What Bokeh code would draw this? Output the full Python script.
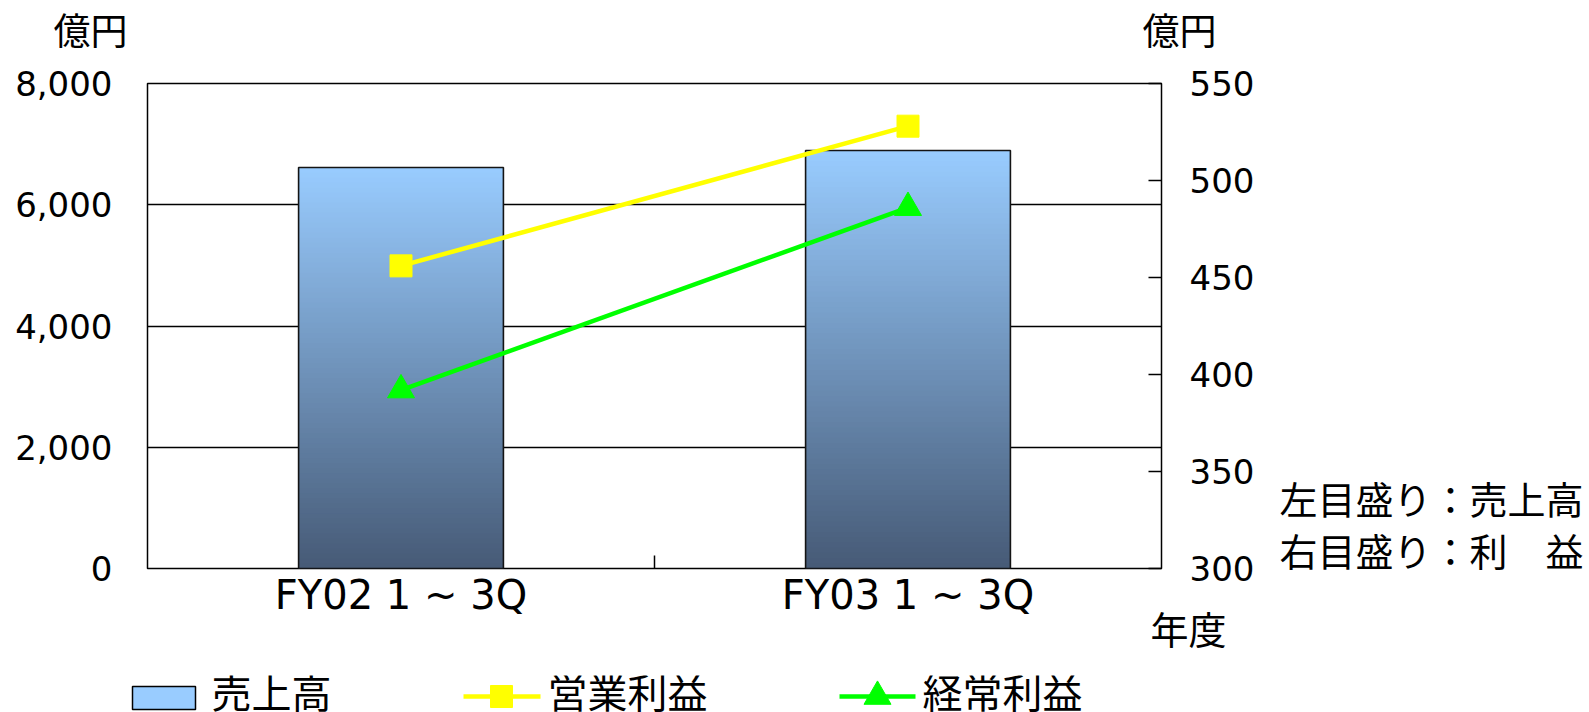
from bokeh.plotting import figure
from bokeh.models import (Range1d, LinearAxis, FixedTicker, NumeralTickFormatter,
                          Label, ColumnDataSource)
from bokeh.core.properties import value
from bokeh.embed import file_html
from bokeh.resources import INLINE

# ---- data (億円) ----
categories = ["FY02 1 ~ 3Q", "FY03 1 ~ 3Q"]
sales = [6615, 6895]             # 売上高 (left scale)
operating_profit = [456, 528]    # 営業利益 (right scale)
ordinary_profit = [392, 486]     # 経常利益 (right scale)
left_ticks = [0, 2000, 4000, 6000, 8000]
right_ticks = [300, 350, 400, 450, 500, 550]

JP = "Noto Sans CJK JP"
NUM = "DejaVu Sans"
W = 1589
TOP_H = 60
BORDER_TOP, FRAME_H, BORDER_BOTTOM = 23, 485, 106
LEG_H = 712 - TOP_H - BORDER_TOP - FRAME_H - BORDER_BOTTOM
BAR_HALF = 0.202
xs = [i + 0.5 for i in range(len(categories))]


def strip(height, y_top):
    """A plain drawing strip whose data units are page pixels."""
    f = figure(width=W, height=height, output_backend="svg", toolbar_location=None,
               x_range=Range1d(0, W), y_range=Range1d(y_top + height, y_top),
               min_border=0, outline_line_color=None)
    f.axis.visible = False
    f.grid.visible = False
    f.border_fill_color = "white"
    return f


# ---- unit captions above the chart ----
top = strip(TOP_H, 0)
top.text(x=[53, 1142], y=[28, 28], text=["億円", "億円"], text_font=value(JP),
         text_font_size="37px", text_color="black", text_baseline="middle",
         text_align="left")

# ---- main chart ----
p = figure(frame_width=1014, frame_height=FRAME_H, output_backend="svg",
           toolbar_location=None,
           x_range=Range1d(0, len(categories)), y_range=Range1d(0, 8000),
           min_border_left=147, min_border_right=428, min_border_top=BORDER_TOP,
           min_border_bottom=BORDER_BOTTOM)
p.extra_y_ranges = {"profit": Range1d(300, 550)}
p.outline_line_color = "black"
p.outline_line_width = 1.5
p.background_fill_color = "white"
p.border_fill_color = "white"

p.xgrid.visible = False
p.ygrid.ticker = FixedTicker(ticks=left_ticks)
p.ygrid.grid_line_color = "black"
p.ygrid.grid_line_width = 1.3

ya = p.yaxis[0]
ya.ticker = FixedTicker(ticks=left_ticks)
ya.formatter = NumeralTickFormatter(format="0,0")
ya.axis_line_color = None
ya.major_tick_in = 0
ya.major_tick_out = 0
ya.minor_tick_in = 0
ya.minor_tick_out = 0
ya.major_label_standoff = 35
ya.major_label_text_font = NUM
ya.major_label_text_font_size = "34px"
ya.major_label_text_color = "black"

ra = LinearAxis(y_range_name="profit", ticker=FixedTicker(ticks=right_ticks))
ra.axis_line_color = None
ra.major_tick_in = 13
ra.major_tick_out = 0
ra.minor_tick_in = 0
ra.minor_tick_out = 0
ra.major_tick_line_color = "black"
ra.major_tick_line_width = 1.5
ra.major_label_standoff = 28
ra.major_label_text_font = NUM
ra.major_label_text_font_size = "34px"
ra.major_label_text_color = "black"
p.add_layout(ra, "right")

xa = p.xaxis[0]
xa.ticker = FixedTicker(ticks=xs, minor_ticks=list(range(1, len(categories))))
xa.major_label_overrides = dict(zip(xs, categories))
xa.axis_line_color = None
xa.major_tick_in = 0
xa.major_tick_out = 0
xa.minor_tick_in = 13
xa.minor_tick_out = 0
xa.minor_tick_line_color = "black"
xa.minor_tick_line_width = 1.5
xa.major_label_standoff = 3
xa.major_label_text_font = NUM
xa.major_label_text_font_size = "40px"
xa.major_label_text_color = "black"

# bars with a vertical gradient, built from thin slices of each bar
N = 80
top_rgb = (153, 204, 255)
bot_rgb = (70, 90, 118)
slices = dict(left=[], right=[], bottom=[], top=[], color=[])
for x, v in zip(xs, sales):
    for k in range(N):
        t = (k + 0.5) / N
        rgb = tuple(int(round(b + (a - b) * t)) for a, b in zip(top_rgb, bot_rgb))
        slices["left"].append(x - BAR_HALF)
        slices["right"].append(x + BAR_HALF)
        slices["bottom"].append(v * k / N)
        slices["top"].append(min(v, v * (k + 1.6) / N))
        slices["color"].append("#%02x%02x%02x" % rgb)
p.quad(source=ColumnDataSource(slices), left="left", right="right", bottom="bottom",
       top="top", fill_color="color", line_color=None)
p.quad(left=[x - BAR_HALF for x in xs], right=[x + BAR_HALF for x in xs],
       bottom=0, top=sales, fill_color=None, line_color="#141414", line_width=1.6)

p.line(xs, operating_profit, y_range_name="profit", line_color="#FFFF00", line_width=4.5)
p.scatter(xs, operating_profit, y_range_name="profit", marker="square", size=22,
          fill_color="#FFFF00", line_color="#FFFF00")
p.line(xs, ordinary_profit, y_range_name="profit", line_color="#00FF00", line_width=4.5)
p.scatter(xs, ordinary_profit, y_range_name="profit", marker="triangle", size=27,
          fill_color="#00FF00", line_color="#00FF00")

# scale notes (right side) and the x-axis caption (below)
notes = Label(x=22, y=45, x_units="screen", y_units="screen",
              text="左目盛り：売上高\n右目盛り：利　益", text_font=JP,
              text_font_size="38px", text_line_height=0.956, text_color="black",
              text_baseline="middle", text_align="left")
p.add_layout(notes, "right")
year = Label(x=1003, y=48, x_units="screen", y_units="screen", text="年度",
             text_font=JP, text_font_size="38px", text_color="black",
             text_baseline="middle", text_align="left")
p.add_layout(year, "below")

# ---- legend strip ----
lg = strip(LEG_H, 712 - LEG_H)
lg.quad(left=[132], right=[195], top=[685], bottom=[708], fill_color="#99CCFF",
        line_color="black", line_width=1.5)
lg.line([463, 540], [695, 695], line_color="#FFFF00", line_width=4.5)
lg.scatter([501], [695], marker="square", size=22, fill_color="#FFFF00", line_color="#FFFF00")
lg.line([839, 915], [695, 695], line_color="#00FF00", line_width=4.5)
lg.scatter([877], [695], marker="triangle", size=27, fill_color="#00FF00", line_color="#00FF00")
lg.text(x=[211, 547, 922], y=[689, 689, 689], text=["売上高", "営業利益", "経常利益"],
        text_font=value(JP), text_font_size="40px", text_color="black",
        text_baseline="middle", text_align="left")

open("out.html", "w").write(file_html([top, p, lg], INLINE))
